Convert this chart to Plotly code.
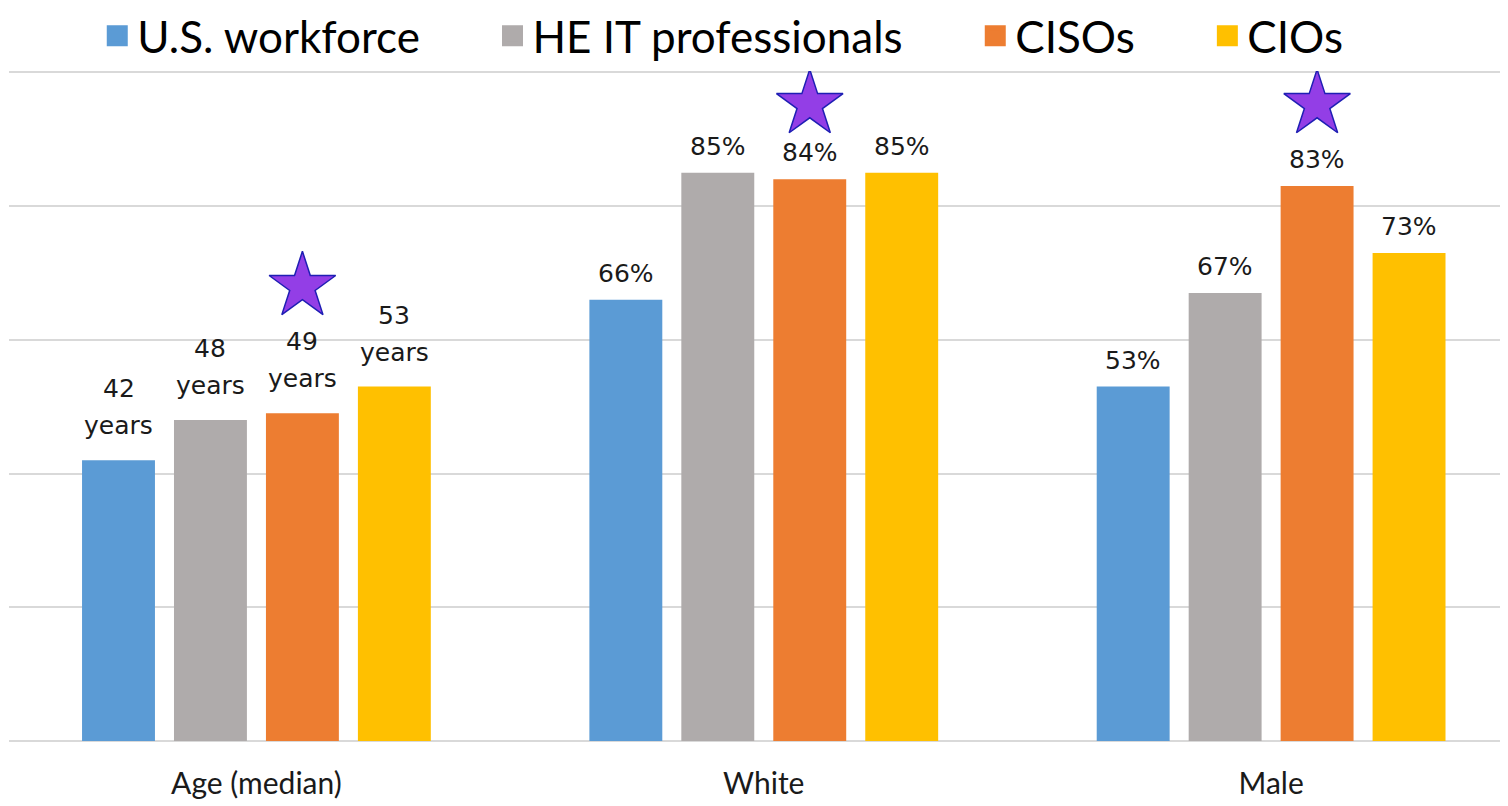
import plotly.graph_objects as go

categories = ["Age (median)", "White", "Male"]
series_names = ["U.S. workforce", "HE IT professionals", "CISOs", "CIOs"]
series_colors = ["#5B9BD5", "#AFABAB", "#ED7D31", "#FFC000"]

us_workforce = [42, 66, 53]
he_it_pros = [48, 85, 67]
cisos = [49, 84, 83]
cios = [53, 85, 73]

label_suffix = ["<br>years", "%", "%"]

# stars sit above the CISO bar of each group
star_values = [68, 95.2, 95.2]
star_series = 2

BARGAP = 0.275
BARGROUPGAP = 0.207
LEGEND_PAD = "\u00a0" * 6  # widen spacing between legend entries

series_values = [us_workforce, he_it_pros, cisos, cios]
n = len(series_values)
group_w = 1 - BARGAP
slot = group_w / n


def bar_x(i, k):
    return i - group_w / 2 + slot * (k + 0.5)


fig = go.Figure()
x_idx = list(range(len(categories)))

for k, (name, vals, col) in enumerate(zip(series_names, series_values, series_colors)):
    fig.add_trace(go.Bar(
        x=x_idx, y=vals, name=name,
        marker=dict(color=col, line=dict(width=0)),
        showlegend=False,
        hoverinfo="skip",
    ))
    # legend proxy with a bigger square
    fig.add_trace(go.Scatter(
        x=[None], y=[None], mode="markers", name=name + LEGEND_PAD,
        marker=dict(symbol="square", size=16, color=col,
                    line=dict(color=col, width=5)),
    ))

# data labels; multi-line labels get wider line spacing, one annotation per line
annotations = []
for k, vals in enumerate(series_values):
    for i, v in enumerate(vals):
        lines = f"{v}{label_suffix[i]}".split("<br>")
        base = 10 if len(lines) == 1 else 18
        for j, line in enumerate(reversed(lines)):
            annotations.append(dict(
                x=bar_x(i, k), y=v, xref="x", yref="y",
                text=line,
                showarrow=False, yanchor="bottom", yshift=base + 37 * j,
                font=dict(family="DejaVu Sans", size=25, color="#1a1a1a"),
            ))

fig.add_trace(go.Scatter(
    x=[bar_x(i, star_series) for i in x_idx], y=star_values,
    mode="markers", showlegend=False, hoverinfo="skip",
    marker=dict(symbol="star", size=50, color="#933EE6",
                line=dict(color="#1F1FB4", width=1.5)),
))

# page body adds an 8px margin, so the figure is sized to fit the window
fig.update_layout(
    width=1500, height=798,
    paper_bgcolor="white", plot_bgcolor="white",
    margin=dict(l=1, r=3, t=63, b=65, autoexpand=False),
    barmode="group",
    bargap=BARGAP,
    bargroupgap=BARGROUPGAP,
    font=dict(family="Lato, sans-serif", color="#000000"),
    xaxis=dict(
        range=[-0.4877, 2.461],
        tickvals=x_idx, ticktext=categories,
        tickfont=dict(family="Lato", size=30, color="#1a1a1a"),
        showgrid=False, zeroline=False, showline=False,
        ticks="", ticklen=0, ticklabelstandoff=22,
    ),
    yaxis=dict(
        range=[0, 100.2], dtick=20,
        showticklabels=False, showgrid=True,
        gridcolor="#D9D9D9", gridwidth=1.5,
        zeroline=True, zerolinecolor="#D9D9D9", zerolinewidth=1.5,
        showline=False,
    ),
    legend=dict(
        orientation="h", x=0.059, xanchor="left", y=1.105, yanchor="top",
        font=dict(family="Lato", size=44, color="#000000"),
        itemsizing="trace", bgcolor="rgba(0,0,0,0)",
    ),
    annotations=annotations,
    showlegend=True,
)

fig.write_html("out.html")
